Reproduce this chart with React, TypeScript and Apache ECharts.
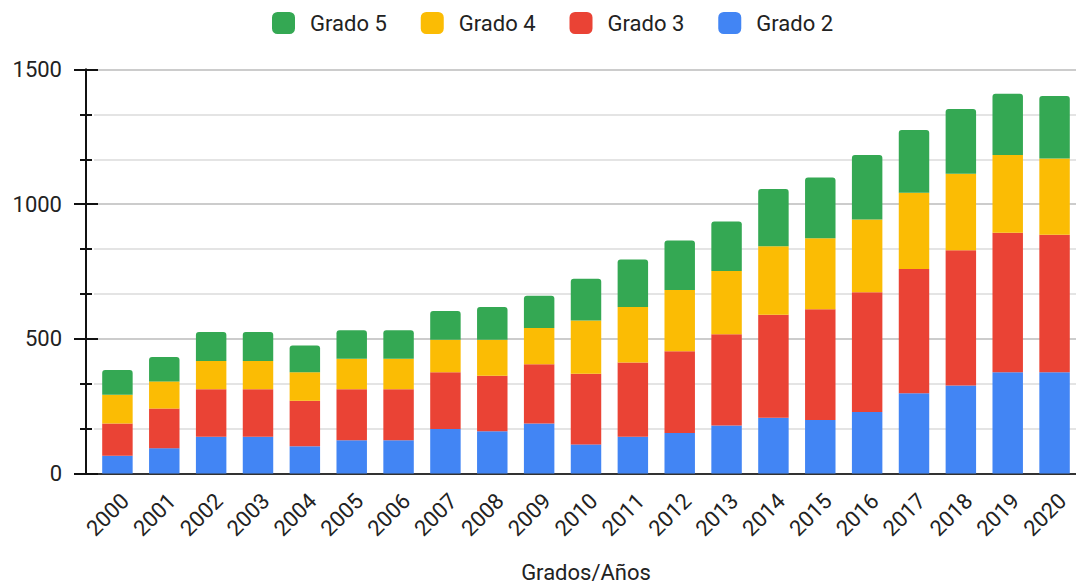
import React, { useEffect, useRef } from "react";
import * as echarts from "echarts";

const years = ["2000", "2001", "2002", "2003", "2004", "2005", "2006", "2007", "2008", "2009", "2010", "2011", "2012", "2013", "2014", "2015", "2016", "2017", "2018", "2019", "2020"];
const grado2 = [66, 94, 136, 136, 101, 123, 123, 165, 157, 186, 108, 136, 150, 178, 207, 199, 228, 298, 327, 376, 376];
const grado3 = [120, 147, 177, 177, 169, 190, 190, 211, 206, 220, 262, 276, 304, 339, 382, 411, 445, 461, 502, 518, 510];
const grado4 = [106, 101, 105, 105, 106, 113, 113, 121, 134, 134, 198, 206, 227, 235, 255, 263, 270, 283, 284, 289, 284];
const grado5 = [92, 91, 107, 107, 99, 106, 106, 106, 121, 120, 155, 177, 184, 184, 212, 226, 240, 233, 240, 227, 232];
const legendOrder = ["Grado 5", "Grado 4", "Grado 3", "Grado 2"];
const xTitle = "Grados/Años";

const FONT = "Roboto, 'Noto Sans', sans-serif";
const TXT = "#222222";

export default function App() {
  const ref = useRef<HTMLDivElement>(null);
  useEffect(() => {
    if (!ref.current) return;
    const chart = echarts.init(ref.current, undefined, { renderer: "svg" });
    const yBase = {
      type: "value",
      min: 0,
      max: 1500,
      interval: 500,
      position: "left",
      offset: 8,
      axisLine: { show: true, lineStyle: { color: "#111", width: 2 } },
    };
    const mk = (name: string, data: number[], color: string, top = false) => ({
      name,
      type: "bar",
      stack: "total",
      data,
      barWidth: "65%",
      itemStyle: { color, borderRadius: top ? [3, 3, 0, 0] : 0 },
    });
    chart.setOption({
      animation: false,
      textStyle: { fontFamily: FONT },
      legend: {
        data: legendOrder,
        left: 267,
        top: 7,
        icon: "roundRect",
        itemWidth: 23,
        itemHeight: 22,
        itemGap: 34,
        textStyle: { fontSize: 22, color: TXT, fontFamily: FONT, padding: [0, 0, 0, 10] },
      },
      grid: {
        left: 94,
        top: 69.5,
        width: 984,
        height: 404,
        containLabel: false,
        outerBoundsMode: "none",
      },
      xAxis: {
        type: "category",
        data: years,
        axisLine: { show: true, lineStyle: { color: "#333", width: 2 } },
        axisTick: { show: false },
        axisLabel: {
          rotate: 45,
          align: "right",
          verticalAlign: "top",
          margin: 16,
          fontSize: 22,
          color: TXT,
          fontFamily: FONT,
          interval: 0,
        },
        name: xTitle,
        nameLocation: "middle",
        nameGap: 88,
        nameTextStyle: { fontSize: 22, color: TXT, fontFamily: FONT },
      },
      yAxis: [
        {
          ...yBase,
          axisTick: { show: true, inside: false, length: 12, lineStyle: { color: "#111", width: 2 } },
          minorTick: { show: true, splitNumber: 3, length: 6, lineStyle: { color: "#111", width: 2 } },
          axisLabel: {
            margin: 24,
            fontSize: 22,
            color: TXT,
            fontFamily: FONT,
            formatter: (v: number) => String(v),
          },
          splitLine: { show: true, lineStyle: { color: "#cccccc", width: 2 } },
          minorSplitLine: { show: true, lineStyle: { color: "#e4e4e4", width: 2 } },
        },
        {
          ...yBase,
          axisTick: { show: true, inside: true, length: 12, lineStyle: { color: "#111", width: 2 } },
          minorTick: { show: true, splitNumber: 3, length: 6, lineStyle: { color: "#111", width: 2 } },
          axisLabel: { show: false },
          splitLine: { show: false },
        },
      ],
      series: [
        mk("Grado 2", grado2, "#4285F4"),
        mk("Grado 3", grado3, "#EA4335"),
        mk("Grado 4", grado4, "#FBBC04"),
        mk("Grado 5", grado5, "#34A853", true),
      ],
    });
    return () => chart.dispose();
  }, []);
  return (
    <div
      ref={ref}
      style={{ position: "fixed", left: 0, top: 0, width: 1076, height: 584, background: "#fff" }}
    />
  );
}
